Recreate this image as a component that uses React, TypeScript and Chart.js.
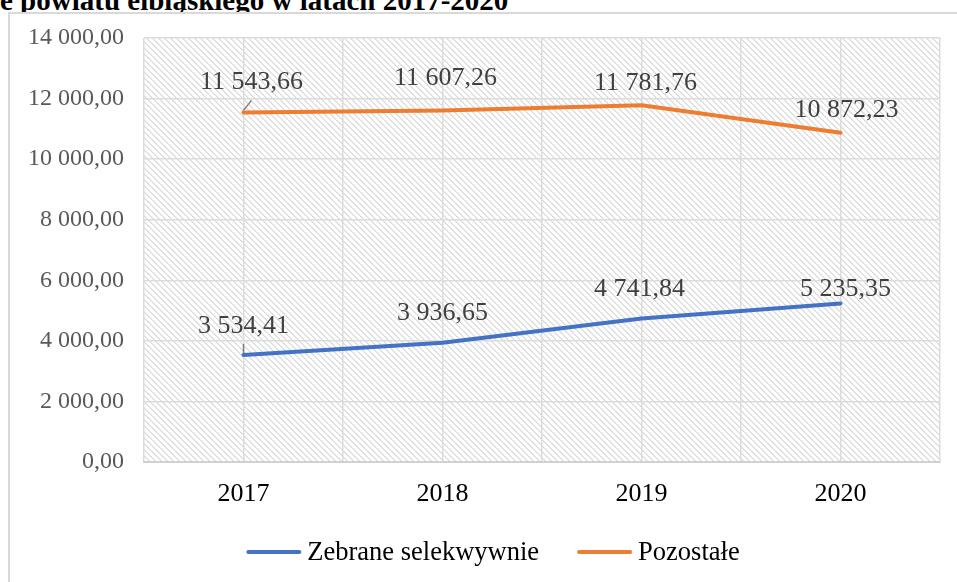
import React, { useEffect, useRef } from "react";
import { Chart, registerables } from "chart.js";

Chart.register(...registerables);

const titleText = "e powiatu elbląskiego w latach 2017-2020";
const categories = ["2017", "2018", "2019", "2020"];
const seriesNames = ["Zebrane selekwywnie", "Pozostałe"];
const selectiveValues = [3534.41, 3936.65, 4741.84, 5235.35];
const otherValues = [11543.66, 11607.26, 11781.76, 10872.23];
const yMin = 0;
const yMax = 14000;
const yStep = 2000;

// label placement (offset of label centre from point, px) and leader lines
const selectiveLabelOffsets = [[0, -29], [0, -30], [-2, -29], [5, -14]];
const otherLabelOffsets = [[8, -30], [3, -32], [4, -22], [6, -23]];
const selectiveLeaders = [true, false, false, false];
const otherLeaders = [true, false, false, false];

const BLUE = "#4472C4";
const ORANGE = "#ED7D31";
const FONT = "'Liberation Serif', 'Times New Roman', serif";

function fmtPl(v: number): string {
  const [i, d] = v.toFixed(2).split(".");
  return i.replace(/\B(?=(\d{3})+(?!\d))/g, " ") + "," + d;
}

const hatchPlugin = {
  id: "hatch",
  beforeDraw(chart: any) {
    const { ctx, chartArea: a } = chart;
    const tile = document.createElement("canvas");
    tile.width = 6;
    tile.height = 6;
    const t = tile.getContext("2d")!;
    t.fillStyle = "#ffffff";
    t.fillRect(0, 0, 6, 6);
    for (let i = 0; i < 6; i++) {
      t.fillStyle = "#d9d9d9";
      t.fillRect(i, i, 1, 1);
      t.fillStyle = "#e8e8e8";
      t.fillRect((i + 1) % 6, i, 1, 1);
    }
    const pat = ctx.createPattern(tile, "repeat");
    ctx.save();
    ctx.fillStyle = pat;
    ctx.fillRect(a.left, a.top, a.right - a.left, a.bottom - a.top);
    ctx.restore();
  },
};

const labelPlugin = {
  id: "pointLabels",
  afterDatasetsDraw(chart: any) {
    const { ctx } = chart;
    const cfg = [
      { offsets: selectiveLabelOffsets, leaders: selectiveLeaders },
      { offsets: otherLabelOffsets, leaders: otherLeaders },
    ];
    chart.data.datasets.forEach((ds: any, di: number) => {
      const meta = chart.getDatasetMeta(di);
      meta.data.forEach((pt: any, i: number) => {
        const [dx, dy] = cfg[di].offsets[i];
        const lx = pt.x + dx;
        const ly = pt.y + dy;
        ctx.save();
        if (cfg[di].leaders[i]) {
          ctx.strokeStyle = "#7f7f7f";
          ctx.lineWidth = 1.5;
          ctx.beginPath();
          ctx.moveTo(pt.x, pt.y - 2);
          ctx.lineTo(lx, ly + 18);
          ctx.stroke();
        }
        ctx.font = `26px ${FONT}`;
        ctx.fillStyle = "#404040";
        ctx.textAlign = "center";
        ctx.textBaseline = "middle";
        ctx.fillText(fmtPl(ds.data[i].y), lx, ly);
        ctx.restore();
      });
    });
  },
};

// legend centred in the outer chart frame (which runs past the right edge)
const legendPlugin = {
  id: "lineLegend",
  afterDraw(chart: any) {
    const { ctx } = chart;
    const frameLeft = 9;
    const frameRight = 977;
    const cy = 552;
    const lineLen = 55;
    const gapText = 6;
    const gapItem = 38;
    ctx.save();
    ctx.font = `26.5px ${FONT}`;
    const items = chart.data.datasets.map((ds: any) => ({
      text: ds.label,
      color: ds.borderColor,
      w: ctx.measureText(ds.label).width,
    }));
    const total =
      items.reduce((s: number, it: any) => s + lineLen + gapText + it.w, 0) +
      gapItem * (items.length - 1);
    let x = (frameLeft + frameRight) / 2 - total / 2;
    items.forEach((it: any) => {
      ctx.strokeStyle = it.color;
      ctx.lineWidth = 4;
      ctx.lineCap = "round";
      ctx.beginPath();
      ctx.moveTo(x + 2, cy);
      ctx.lineTo(x + lineLen - 2, cy);
      ctx.stroke();
      ctx.fillStyle = "#000000";
      ctx.textAlign = "left";
      ctx.textBaseline = "middle";
      ctx.fillText(it.text, x + lineLen + gapText, cy + 1);
      x += lineLen + gapText + it.w + gapItem;
    });
    ctx.restore();
  },
};

export default function App() {
  const ref = useRef<HTMLCanvasElement | null>(null);

  useEffect(() => {
    if (!ref.current) return;
    const chart = new Chart(ref.current, {
      type: "line",
      data: {
        datasets: [
          {
            label: seriesNames[0],
            data: selectiveValues.map((v, i) => ({ x: i, y: v })),
            borderColor: BLUE,
            backgroundColor: BLUE,
            borderWidth: 4,
            borderCapStyle: "round",
            pointRadius: 0,
            tension: 0,
          },
          {
            label: seriesNames[1],
            data: otherValues.map((v, i) => ({ x: i, y: v })),
            borderColor: ORANGE,
            backgroundColor: ORANGE,
            borderWidth: 4,
            borderCapStyle: "round",
            pointRadius: 0,
            tension: 0,
          },
        ],
      },
      options: {
        animation: false,
        responsive: false,
        maintainAspectRatio: false,
        layout: { padding: { left: 0, right: 15, top: 38, bottom: 66 } },
        plugins: {
          tooltip: { enabled: false },
          legend: { display: false },
        },
        scales: {
          x: {
            type: "linear",
            min: -0.5,
            max: categories.length - 0.5,
            afterBuildTicks: (s: any) => {
              const ticks = [];
              for (let v = -0.5; v <= categories.length - 0.5 + 1e-9; v += 0.5) ticks.push({ value: v });
              s.ticks = ticks;
            },
            afterFit: (s: any) => {
              s.height = 54;
            },
            ticks: {
              autoSkip: false,
              maxRotation: 0,
              padding: 17,
              color: "#000000",
              font: { family: FONT, size: 26 },
              callback: (v: any) => {
                const n = Number(v);
                return Number.isInteger(n) ? categories[n] ?? "" : "";
              },
            },
            grid: { color: "#dcdcdc", lineWidth: 1.5, drawTicks: false },
            border: { display: true, color: "#d0d0d0", width: 2 },
          },
          y: {
            min: yMin,
            max: yMax,
            afterFit: (s: any) => {
              s.width = 144;
            },
            ticks: {
              stepSize: yStep,
              padding: 20,
              color: "#595959",
              font: { family: FONT, size: 24 },
              callback: (v: any) => fmtPl(Number(v)),
            },
            grid: { color: "#dcdcdc", lineWidth: 1.5, drawTicks: false },
            border: { display: false },
          },
        },
      },
      plugins: [hatchPlugin, labelPlugin, legendPlugin],
    });
    return () => chart.destroy();
  }, []);

  return (
    <div
      style={{
        position: "fixed",
        left: 0,
        top: 0,
        width: 957,
        height: 582,
        overflow: "hidden",
        background: "#ffffff",
      }}
    >
      <div
        style={{
          position: "absolute",
          left: 0,
          top: -14,
          fontFamily: FONT,
          fontWeight: "bold",
          fontSize: 29,
          lineHeight: "29px",
          whiteSpace: "nowrap",
          color: "#000",
        }}
      >
        {titleText}
      </div>
      <div
        style={{
          position: "absolute",
          left: 8,
          top: 12,
          width: 1000,
          height: 1000,
          border: "2px solid #d9d9d9",
          boxSizing: "border-box",
          background: "#ffffff",
        }}
      />
      <canvas
        ref={ref}
        width={957}
        height={582}
        style={{ position: "absolute", left: 0, top: 0, width: 957, height: 582 }}
      />
    </div>
  );
}
